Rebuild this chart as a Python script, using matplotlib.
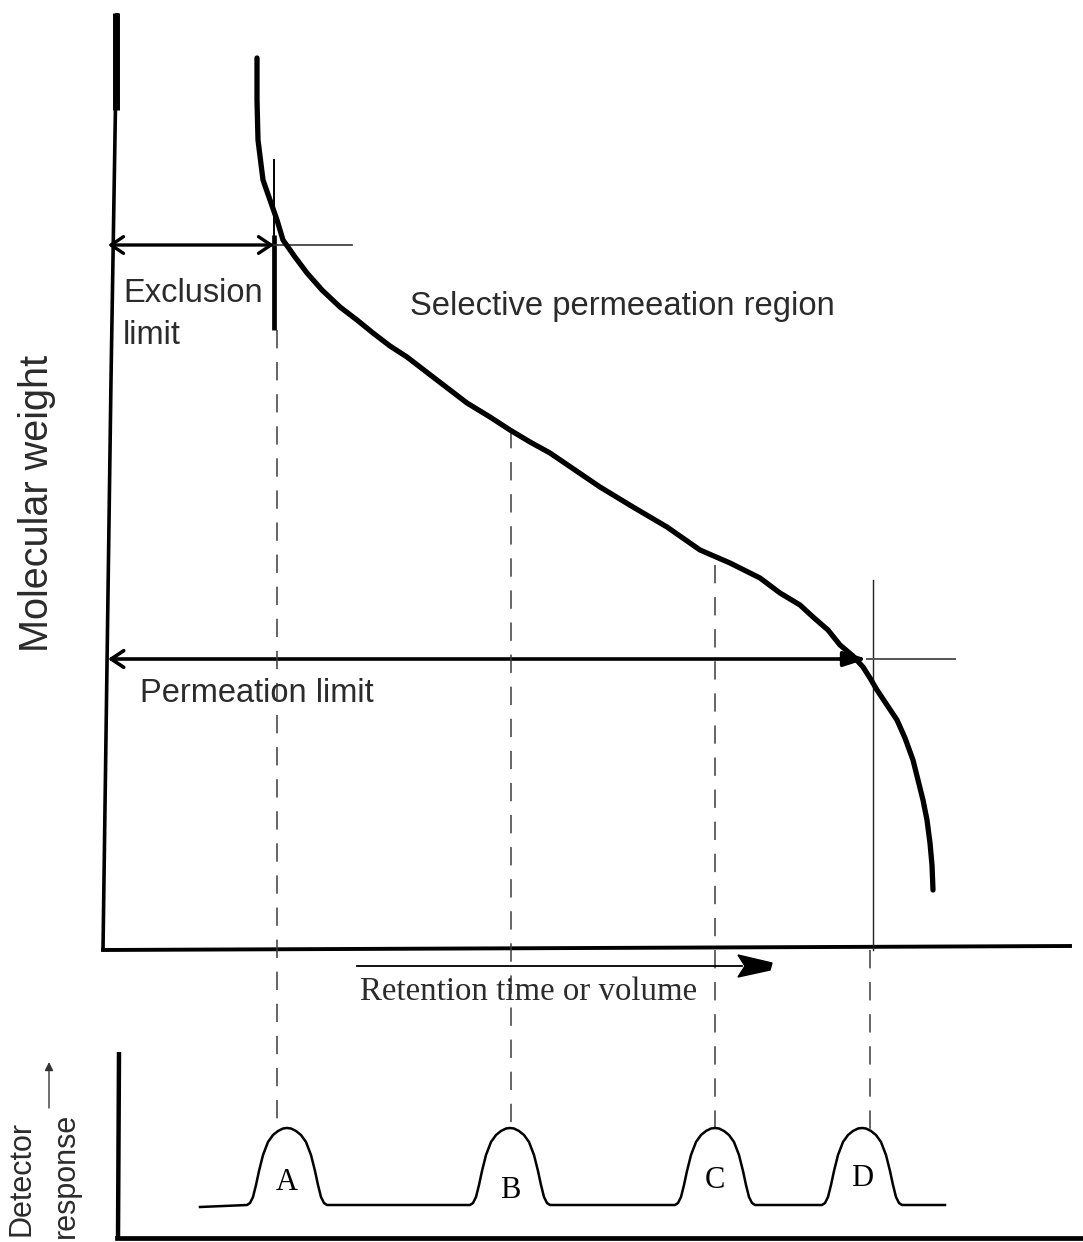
import matplotlib
matplotlib.use("Agg")
import matplotlib.pyplot as plt
from matplotlib.patches import FancyArrowPatch, Polygon

# ---------------- data (diagram units = image pixels, y grows downward) -------------
curve_x = [257, 257, 258, 263, 270, 277, 283, 295, 307, 322, 340, 357, 373, 390, 407, 433,
           467, 490, 510, 530, 550, 575, 600, 633, 667, 700, 730, 760, 780, 800, 813, 828,
           840, 853, 863, 870, 877, 887, 897, 905, 913, 918, 923, 927, 930, 932, 933]
curve_y = [58, 100, 140, 180, 200, 220, 240, 257, 273, 290, 307, 320, 333, 346, 357, 377,
           403, 417, 430, 442, 453, 470, 487, 507, 527, 550, 563, 578, 593, 605, 617, 630,
           645, 656, 667, 678, 690, 705, 720, 738, 760, 780, 800, 820, 843, 865, 890]

peak_labels = ["A", "B", "C", "D"]
peak_centers = [287, 510, 715, 862]
label_y = [1183, 1190, 1180, 1178]
peak_dx = [-40, -37, -34, -31, -28, -24, -19, -14, -9, -4, 0, 4, 9, 14, 19, 24, 28, 31, 34, 37, 40]
peak_dy = [0, 2, 8, 20, 34, 50, 63, 70, 74, 76.5, 77, 76.5, 74, 70, 63, 50, 34, 20, 8, 2, 0]
baseline_y = 1207
baseline_start, baseline_end = 200, 945

dash_x = [277, 511, 715, 870]      # dashed guide lines
dash_tops = [330, 430, 565, 950]
exclusion_y = 245
permeation_y = 659
exclusion_x = 274
permeation_x = 867

# ---------------- figure ----------------
fig = plt.figure(figsize=(10.83, 12.42), dpi=100)
ax = fig.add_axes([0, 0, 1, 1])
ax.set_xlim(0, 1083)
ax.set_ylim(1242, 0)
ax.axis("off")

black = "#000000"
txtc = "#2b2b2b"
sans = ["Liberation Sans", "DejaVu Sans"]
serif = ["Liberation Serif", "DejaVu Serif"]

# top axes
ax.plot([117, 111, 103], [13, 380, 950], color=black, lw=2.6, solid_capstyle="butt")
ax.plot([116, 116], [13, 110], color=black, lw=5, solid_capstyle="butt")
ax.plot([103, 1070], [950, 946], color=black, lw=2.8)

# dashed guide lines
for x, top in zip(dash_x, dash_tops):
    ax.plot([x, x], [top, 1130], color="#3a3a3a", lw=1.1, linestyle=(0, (12, 9)))

# thin vertical at permeation limit
ax.plot([873, 873], [580, 950], color="#222222", lw=1.0)

# exclusion marker (vertical thick) + thin horizontal
ax.plot([exclusion_x, exclusion_x], [160, 235], color=black, lw=1.4)
ax.plot([exclusion_x, exclusion_x], [235, 330], color=black, lw=3.4, solid_capstyle="butt")
ax.plot([exclusion_x, 352], [exclusion_y, exclusion_y], color="#333333", lw=1.2)

# permeation thin extension
ax.plot([permeation_x, 955], [permeation_y, permeation_y], color="#555555", lw=1.4)

# main calibration curve
ax.plot(curve_x, curve_y, color=black, lw=3.8, solid_capstyle="round", solid_joinstyle="round")

# exclusion double arrow (open chevron heads)
ax.add_patch(FancyArrowPatch((108, exclusion_y), (exclusion_x, exclusion_y),
                             arrowstyle="<->,head_length=9,head_width=6",
                             color=black, lw=2.4, shrinkA=0, shrinkB=0))
# permeation arrow: open head left, filled head right
ax.add_patch(FancyArrowPatch((permeation_x - 10, permeation_y), (108, permeation_y),
                             arrowstyle="->,head_length=9,head_width=6",
                             color=black, lw=2.6, shrinkA=0, shrinkB=0))
ax.add_patch(FancyArrowPatch((840, permeation_y), (permeation_x, permeation_y),
                             arrowstyle="-|>,head_length=14,head_width=4.5",
                             color=black, lw=2.6, shrinkA=0, shrinkB=0))

# retention arrow
ax.plot([357, 742], [966, 966], color=black, lw=1.3)
ax.add_patch(Polygon([[738, 955], [772, 963], [770, 970], [738, 977], [745, 966]],
                     closed=True, color=black))

# texts
ax.text(123, 293, "Exclusion", fontsize=23.5, family=sans, color=txtc, va="center", ha="left")
ax.text(123, 335, "limit", fontsize=23.5, family=sans, color=txtc, va="center", ha="left")
ax.text(410, 307, "Selective permeeation region", fontsize=23.6, family=sans, color=txtc,
        va="center", ha="left")
ax.text(140, 693, "Permeation limit", fontsize=23.5, family=sans, color=txtc, va="center", ha="left")
ax.text(37, 503, "Molecular weight", fontsize=28.5, family=sans, color=txtc, rotation=90,
        va="center", ha="center")
ax.text(360, 992, "Retention time or volume", fontsize=23.7, family=serif, color=txtc,
        va="center", ha="left")

# ---------------- detector panel ----------------
ax.plot([119, 118], [1052, 1238], color=black, lw=3.2, solid_capstyle="butt")
ax.plot([117, 1083], [1238, 1238], color=black, lw=3.4)

chrom_x = [baseline_start]
chrom_y = [baseline_y]
for c in peak_centers:
    for dx, dy in zip(peak_dx, peak_dy):
        chrom_x.append(c + dx)
        chrom_y.append(baseline_y - 2 - dy)
chrom_x.append(baseline_end)
chrom_y.append(baseline_y - 2)
ax.plot(chrom_x, chrom_y, color=black, lw=1.8, solid_joinstyle="round")

for lab, c, ly in zip(peak_labels, peak_centers, label_y):
    ax.text(c, ly, lab, fontsize=22, family=serif, color=black, ha="center", va="center")

ax.text(22, 1178, "Detector", fontsize=22, family=sans, color=txtc, rotation=90,
        va="center", ha="center")
ax.text(66, 1175, "response", fontsize=22, family=sans, color=txtc, rotation=90,
        va="center", ha="center")
ax.add_patch(FancyArrowPatch((49, 1108), (49, 1062),
                             arrowstyle="-|>,head_length=5,head_width=2.5",
                             color="#333333", lw=1.0, shrinkA=0, shrinkB=0))

fig.savefig("out.png", dpi=100, facecolor="white")
